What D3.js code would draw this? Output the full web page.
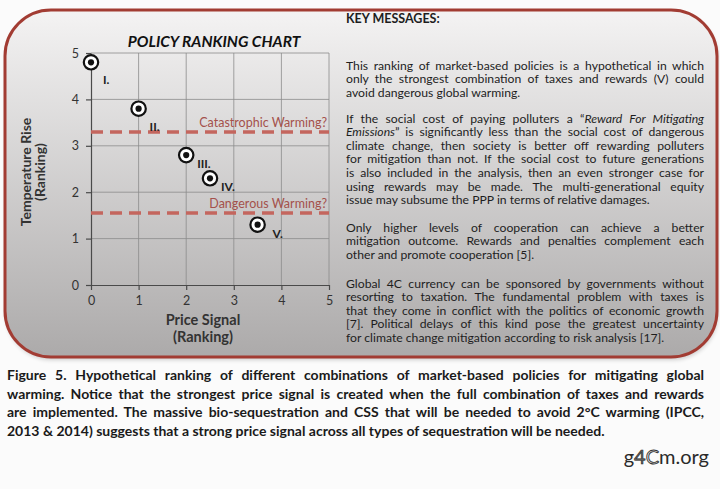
<!DOCTYPE html>
<html>
<head>
<meta charset="utf-8">
<script src="https://cdn.jsdelivr.net/npm/d3@7"></script>
<style>
  body { margin: 0; background: #fbfbfb; }
</style>
</head>
<body>
<div id="chart"></div>
<script>
// data
const policies = ["I.", "II.", "III.", "IV.", "V."];
const priceSignal = [0, 1, 2, 2.5, 3.5];
const tempRise = [4.8, 3.8, 2.8, 2.3, 1.3];
const xTicks = [0, 1, 2, 3, 4, 5];
const yTicks = [0, 1, 2, 3, 4, 5];
const thresholdNames = ["Catastrophic Warming?", "Dangerous Warming?"];
const thresholdValues = [3.3, 1.55];

// text lines, *...* marks italic
const keyMessages = [
  ["This ranking of market-based policies is a hypothetical in which",
   "only the strongest combination of taxes and rewards (V) could",
   "avoid dangerous global warming."],
  ["If the social cost of paying polluters a \u201c*Reward For Mitigating*",
   "*Emissions*\u201d is significantly less than the social cost of dangerous",
   "climate change, then society is better off rewarding polluters",
   "for mitigation than not. If the social cost to future generations",
   "is also included in the analysis, then an even stronger case for",
   "using rewards may be made. The multi-generational equity",
   "issue may subsume the PPP in terms of relative damages."],
  ["Only higher levels of cooperation can achieve a better",
   "mitigation outcome. Rewards and penalties complement each",
   "other and promote cooperation [5]."],
  ["Global 4C currency can be sponsored by governments without",
   "resorting to taxation. The fundamental problem with taxes is",
   "that they come in conflict with the politics of economic growth",
   "[7]. Political delays of this kind pose the greatest uncertainty",
   "for climate change mitigation according to risk analysis [17]."]
];
const captionLines = [
  "Figure 5. Hypothetical ranking of different combinations of market-based policies for mitigating global",
  "warming. Notice that the strongest price signal is created when the full combination of taxes and rewards",
  "are implemented. The massive bio-sequestration and CSS that will be needed to avoid 2\u00b0C warming (IPCC,",
  "2013 & 2014) suggests that a strong price signal across all types of sequestration will be needed."
];

// layout
const width = 720, height = 489;
const font = "Lato, 'Open Sans', sans-serif";
const labelShift = [[12, 18], [11, 18], [11, 9], [11, 9], [15, 9]];
const paraY = [69.5, 122.5, 231.5, 287.5];

const svg = d3.select("#chart")
  .append("svg")
  .attr("width", width)
  .attr("height", height);

const defs = svg.append("defs");
const grad = defs.append("linearGradient")
  .attr("id", "panelFill")
  .attr("x1", 0).attr("y1", 0).attr("x2", 0).attr("y2", 1);
grad.append("stop").attr("offset", "0%").attr("stop-color", "#f4f3f3");
grad.append("stop").attr("offset", "100%").attr("stop-color", "#acaaaa");

const blur = defs.append("filter").attr("id", "soft");
blur.append("feGaussianBlur").attr("stdDeviation", 2);

// panel
svg.append("rect")
  .attr("x", 6).attr("y", 13).attr("width", 712).attr("height", 347).attr("rx", 46)
  .attr("fill", "#000").attr("opacity", 0.18).attr("filter", "url(#soft)");
svg.append("rect")
  .attr("x", 5).attr("y", 10).attr("width", 712).attr("height", 347).attr("rx", 46)
  .attr("fill", "url(#panelFill)")
  .attr("stroke", "#a23c33").attr("stroke-width", 3);

// scales
const xScale = d3.scaleLinear().domain([0, 5]).range([91, 329]);
const yScale = d3.scaleLinear().domain([0, 5]).range([285, 53]);

// grid
svg.append("g")
  .selectAll("line")
  .data(xTicks.slice(1))
  .join("line")
  .attr("x1", d => xScale(d)).attr("x2", d => xScale(d))
  .attr("y1", yScale(0)).attr("y2", yScale(5))
  .attr("stroke", "#8c8c8c").attr("stroke-width", 0.8);
svg.append("g")
  .selectAll("line")
  .data(yTicks.slice(1))
  .join("line")
  .attr("x1", xScale(0)).attr("x2", xScale(5))
  .attr("y1", d => yScale(d)).attr("y2", d => yScale(d))
  .attr("stroke", "#8c8c8c").attr("stroke-width", 0.8);

// axes
const xAxis = svg.append("g")
  .attr("transform", `translate(0,${yScale(0)})`)
  .call(d3.axisBottom(xScale).tickValues(xTicks).tickFormat(d3.format("d"))
    .tickSize(5).tickSizeOuter(0).tickPadding(6));
const yAxis = svg.append("g")
  .attr("transform", `translate(${xScale(0)},0)`)
  .call(d3.axisLeft(yScale).tickValues(yTicks).tickFormat(d3.format("d"))
    .tickSize(5).tickSizeOuter(0).tickPadding(7));
[xAxis, yAxis].forEach(a => {
  a.select(".domain").attr("stroke", "#4a4a4a").attr("stroke-width", 1.2);
  a.selectAll(".tick line").attr("stroke", "#4a4a4a").attr("stroke-width", 1.2);
  a.selectAll("text").attr("font-family", font).attr("font-size", 12.5).attr("fill", "#333");
});

// threshold lines
svg.append("g")
  .selectAll("line")
  .data(thresholdValues)
  .join("line")
  .attr("x1", xScale(0)).attr("x2", xScale(5))
  .attr("y1", d => yScale(d)).attr("y2", d => yScale(d))
  .attr("stroke", "#c4665e").attr("stroke-width", 3.5)
  .attr("stroke-dasharray", "12,7");
svg.append("g")
  .selectAll("text")
  .data(thresholdValues)
  .join("text")
  .attr("x", xScale(5) - 2)
  .attr("y", d => yScale(d) - 5)
  .attr("text-anchor", "end")
  .attr("font-family", font).attr("font-size", 12.5)
  .attr("fill", "#a4514b")
  .text((d, i) => thresholdNames[i]);

// markers
const pts = svg.append("g")
  .selectAll("g")
  .data(policies)
  .join("g")
  .attr("transform", (d, i) => `translate(${xScale(priceSignal[i])},${yScale(tempRise[i])})`);
pts.append("circle").attr("r", 7.2).attr("fill", "#fff").attr("stroke", "#111").attr("stroke-width", 2.2);
pts.append("circle").attr("r", 3.1).attr("fill", "#111");
pts.append("text")
  .attr("x", (d, i) => labelShift[i][0])
  .attr("y", (d, i) => labelShift[i][1])
  .attr("dy", "0.35em")
  .attr("font-family", font).attr("font-size", 12).attr("font-weight", "bold")
  .attr("fill", "#222")
  .text(d => d);

// titles
svg.append("text")
  .attr("x", 214).attr("y", 47)
  .attr("text-anchor", "middle")
  .attr("font-family", font).attr("font-size", 15.5)
  .attr("font-weight", "bold").attr("font-style", "italic")
  .attr("fill", "#111")
  .text("POLICY RANKING CHART");
svg.append("g")
  .selectAll("text")
  .data(["Price Signal", "(Ranking)"])
  .join("text")
  .attr("x", 203).attr("y", (d, i) => 325 + i * 17)
  .attr("text-anchor", "middle")
  .attr("font-family", font).attr("font-size", 14.5).attr("font-weight", "bold")
  .attr("fill", "#333")
  .text(d => d);
svg.append("g")
  .selectAll("text")
  .data(["Temperature Rise", "(Ranking)"])
  .join("text")
  .attr("transform", (d, i) => `translate(${31 + i * 14},172) rotate(-90)`)
  .attr("text-anchor", "middle")
  .attr("font-family", font).attr("font-size", 14).attr("font-weight", "bold")
  .attr("fill", "#333")
  .text(d => d);

// write a line with italic segments
function writeLine(g, str, x, y) {
  const t = g.append("text").attr("x", x).attr("y", y);
  str.split("*").forEach((s, k) => {
    if (s) t.append("tspan").attr("font-style", k % 2 ? "italic" : "normal").text(s);
  });
  return t;
}

// stretch word gaps so a line fills the width
function justify(t, w) {
  const node = t.node();
  const gaps = (node.textContent.match(/ /g) || []).length;
  const natural = node.getComputedTextLength();
  if (gaps && natural < w) t.style("word-spacing", ((w - natural) / gaps) + "px");
}

// widest natural width of some lines inside g
function widest(g, lines) {
  const probe = g.append("text");
  let m = 0;
  lines.forEach(l => {
    probe.text(l.replace(/\*/g, ""));
    m = Math.max(m, probe.node().getComputedTextLength());
  });
  probe.remove();
  return m;
}

// key messages
const msgX = 346, msgW = 358, msgLH = 13.6;
svg.append("text")
  .attr("x", msgX).attr("y", 22.5)
  .attr("font-family", font).attr("font-size", 12.5).attr("font-weight", "bold")
  .attr("fill", "#1e1e1e")
  .text("KEY MESSAGES:");
const msgG = svg.append("g").attr("font-family", font).attr("fill", "#1e1e1e").attr("font-size", 12.2);
const fullMsgLines = keyMessages.flatMap(p => p.slice(0, -1));
const msgSx = Math.min(1, msgW * 0.985 / widest(msgG, fullMsgLines));
msgG.attr("transform", `translate(${msgX},0) scale(${msgSx},1)`);
keyMessages.forEach((para, p) => {
  para.forEach((line, i) => {
    const t = writeLine(msgG, line, 0, paraY[p] + i * msgLH);
    if (i < para.length - 1) justify(t, msgW / msgSx);
  });
});

// caption, glyphs squeezed a little to get a condensed look
const capX = 7, capW = 697;
const capG = svg.append("g")
  .attr("font-family", font)
  .attr("font-size", 14).attr("font-weight", "bold").attr("fill", "#1a1a1a");
const capSx = Math.min(1, capW * 0.975 / widest(capG, captionLines.slice(0, -1)));
capG.attr("transform", `translate(${capX},0) scale(${capSx},1)`);
captionLines.forEach((line, i) => {
  const t = writeLine(capG, line, 0, 380 + i * 18.5);
  if (i < captionLines.length - 1) justify(t, capW / capSx);
});

// logo
const logo = svg.append("text")
  .attr("x", 709).attr("y", 464)
  .attr("text-anchor", "end")
  .attr("font-family", font).attr("font-size", 20)
  .attr("fill", "#2a2a2a");
logo.append("tspan").text("g");
logo.append("tspan").attr("fill", "#6a6a6a").attr("stroke", "#222").attr("stroke-width", 0.6).text("4");
logo.append("tspan").attr("fill", "#e6e6e6").attr("stroke", "#333").attr("stroke-width", 0.9).text("C");
logo.append("tspan").text("m.org");
</script>
</body>
</html>
